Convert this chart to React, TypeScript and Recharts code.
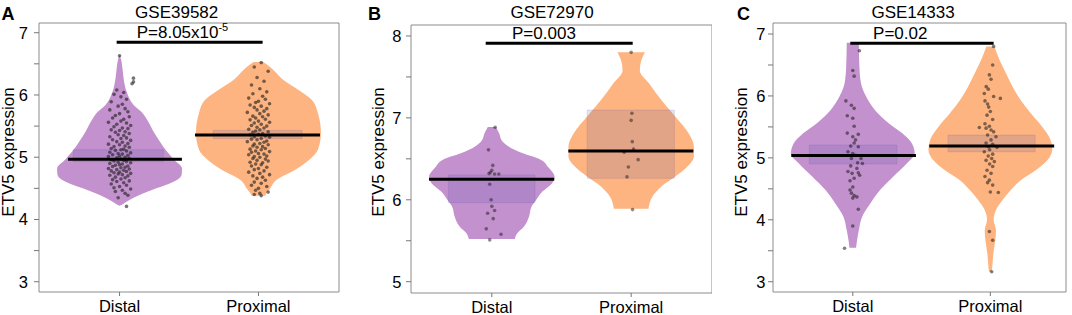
import { ScatterChart, Scatter, XAxis, YAxis, ReferenceArea, Curve } from "recharts";

const GROUPS = ["Distal", "Proximal"];
const FONT = '"Liberation Sans", Arial, Helvetica, sans-serif';
const PURPLE = "#c391cd";
const ORANGE = "#fdb480";
const BOX_FILL = "#4848b0";

const TITLES = ["GSE39582", "GSE72970", "GSE14333"];
const LETTERS = ["A", "B", "C"];

// violin outlines: y levels (top -> bottom) and half widths in x units
const violinA1Y = [6.64, 6.55, 6.48, 6.27, 6.05, 5.84, 5.73, 5.57, 5.41, 5.25, 5.09, 4.96, 4.82, 4.72, 4.61, 4.5, 4.39, 4.31, 4.25, 4.22];
const violinA1W = [0.0, 0.013, 0.018, 0.029, 0.051, 0.101, 0.157, 0.207, 0.245, 0.291, 0.341, 0.392, 0.45, 0.447, 0.392, 0.265, 0.139, 0.068, 0.025, 0.0];
const violinA2Y = [6.53, 6.45, 6.4, 6.24, 6.08, 5.92, 5.71, 5.39, 5.12, 4.96, 4.8, 4.64, 4.48, 4.4, 4.38];
const violinA2W = [0.035, 0.084, 0.108, 0.18, 0.289, 0.385, 0.428, 0.45, 0.428, 0.366, 0.265, 0.132, 0.079, 0.053, 0.05];
const violinB1Y = [6.89, 6.81, 6.72, 6.65, 6.57, 6.49, 6.4, 6.28, 6.2, 6.1, 6.0, 5.92, 5.79, 5.67, 5.59, 5.52];
const violinB1W = [0.029, 0.053, 0.073, 0.12, 0.218, 0.351, 0.404, 0.45, 0.431, 0.363, 0.319, 0.286, 0.266, 0.23, 0.182, 0.165];
const violinB2Y = [7.8, 7.71, 7.58, 7.42, 7.22, 7.02, 6.81, 6.65, 6.53, 6.4, 6.28, 6.16, 6.04, 5.89];
const violinB2W = [0.099, 0.074, 0.062, 0.129, 0.215, 0.314, 0.413, 0.45, 0.45, 0.4, 0.314, 0.215, 0.153, 0.124];
const violinC1Y = [6.86, 6.47, 6.2, 5.99, 5.77, 5.56, 5.4, 5.23, 5.07, 4.91, 4.7, 4.48, 4.26, 4.05, 3.83, 3.67, 3.55];
const violinC1W = [0.044, 0.048, 0.06, 0.097, 0.162, 0.261, 0.358, 0.431, 0.45, 0.392, 0.295, 0.198, 0.126, 0.068, 0.044, 0.031, 0.024];
const violinC2Y = [6.8, 6.58, 6.36, 6.14, 5.93, 5.72, 5.5, 5.29, 5.13, 4.96, 4.8, 4.64, 4.48, 4.32, 4.16, 4.0, 3.83, 3.67, 3.46, 3.24, 3.16];
const violinC2W = [0.029, 0.067, 0.115, 0.164, 0.221, 0.294, 0.378, 0.438, 0.45, 0.414, 0.33, 0.221, 0.149, 0.089, 0.041, 0.024, 0.041, 0.036, 0.022, 0.014, 0.01];

// [x1, x2, yLow, yHigh] shaded boxes
const boxA = [[0.667, 1.315, 4.93, 5.12], [1.673, 2.314, 5.3, 5.43]];
const boxB = [[0.688, 1.31, 5.965, 6.303], [1.684, 2.31, 6.262, 7.096]];
const boxC = [[0.684, 1.321, 4.9, 5.207], [1.692, 2.326, 5.099, 5.368]];

// [x1, x2, y] median bars
const medianA = [[0.629, 1.449, 4.968], [1.543, 2.443, 5.358]];
const medianB = [[0.549, 1.448, 6.25], [1.549, 2.446, 6.596]];
const medianC = [[0.553, 1.459, 5.04], [1.556, 2.464, 5.19]];

// [x1, x2, y, textX]
const bracketA = [0.979, 2.03, 6.846, 1.453];
const bracketB = [0.956, 2.011, 7.911, 1.374];
const bracketC = [0.982, 2.024, 6.85, 1.345];

const jitterA1: [number, number][] = [
  [1.0, 6.63], [1.1, 6.27], [1.1, 6.21], [1.09, 6.18], [0.98, 6.08], [1.03, 6.04], [0.96, 6.01], [1.01, 5.97], [1.05, 5.93], [0.94, 5.89],
  [1.02, 5.85], [0.99, 5.82], [1.04, 5.78], [0.93, 5.76], [1.06, 5.73], [1.0, 5.7], [0.97, 5.67], [1.07, 5.65], [0.95, 5.63], [1.03, 5.61],
  [1.01, 5.58], [0.92, 5.56], [1.05, 5.55], [0.98, 5.53], [1.08, 5.51], [0.96, 5.49], [1.02, 5.47], [1.06, 5.46], [0.94, 5.44], [1.0, 5.43],
  [1.04, 5.41], [0.97, 5.4], [1.07, 5.38], [0.99, 5.36], [1.03, 5.35], [0.93, 5.33], [1.05, 5.31], [1.01, 5.3], [0.95, 5.28], [1.08, 5.27],
  [0.98, 5.25], [1.02, 5.24], [1.06, 5.22], [0.92, 5.21], [1.0, 5.2], [1.04, 5.18], [0.96, 5.17], [1.07, 5.16], [0.94, 5.14], [1.03, 5.13],
  [1.01, 5.12], [0.97, 5.11], [1.05, 5.1], [0.93, 5.08], [1.08, 5.07], [0.99, 5.06], [1.02, 5.05], [0.95, 5.04], [1.06, 5.03], [1.0, 5.02],
  [0.92, 5.01], [1.04, 5.0], [0.98, 4.99], [1.07, 4.98], [1.01, 4.97], [0.94, 4.96], [1.03, 4.95], [0.96, 4.94], [1.05, 4.93], [0.99, 4.92],
  [1.08, 4.91], [0.93, 4.9], [1.02, 4.89], [1.0, 4.88], [0.97, 4.87], [1.06, 4.86], [0.95, 4.85], [1.04, 4.84], [1.01, 4.83], [0.92, 4.82],
  [1.07, 4.81], [0.98, 4.8], [1.03, 4.79], [0.94, 4.78], [1.05, 4.77], [1.0, 4.76], [0.96, 4.75], [1.08, 4.74], [0.99, 4.73], [1.02, 4.72],
  [0.93, 4.71], [1.06, 4.7], [0.97, 4.68], [1.04, 4.67], [1.01, 4.65], [0.95, 4.64], [1.07, 4.62], [0.98, 4.61], [1.03, 4.59], [0.94, 4.57],
  [1.05, 4.55], [1.0, 4.53], [0.96, 4.51], [1.08, 4.49], [1.02, 4.47], [0.97, 4.45], [1.04, 4.42], [1.06, 4.39], [0.99, 4.35], [1.05, 4.21],
];

const jitterA2: [number, number][] = [
  [2.02, 6.52], [1.97, 6.45], [2.07, 6.38], [1.99, 6.28], [2.04, 6.22], [1.95, 6.16], [2.01, 6.1], [2.06, 6.05], [1.96, 6.02], [2.03, 5.98],
  [1.93, 5.95], [2.05, 5.93], [2.0, 5.9], [1.98, 5.88], [2.08, 5.86], [1.94, 5.84], [2.02, 5.82], [1.97, 5.8], [2.06, 5.78], [1.99, 5.76],
  [2.04, 5.74], [1.92, 5.72], [2.01, 5.7], [2.07, 5.68], [1.96, 5.66], [2.03, 5.65], [1.98, 5.63], [2.05, 5.61], [1.94, 5.6], [2.0, 5.58],
  [2.08, 5.56], [1.97, 5.55], [2.02, 5.53], [1.95, 5.51], [2.06, 5.5], [1.99, 5.48], [2.04, 5.47], [1.93, 5.45], [2.01, 5.44], [1.98, 5.42],
  [2.07, 5.41], [1.96, 5.4], [2.03, 5.38], [2.0, 5.37], [1.94, 5.36], [2.05, 5.34], [1.97, 5.33], [2.08, 5.32], [2.02, 5.3], [1.95, 5.29],
  [1.99, 5.28], [2.06, 5.26], [1.92, 5.25], [2.04, 5.24], [2.01, 5.22], [1.97, 5.21], [2.07, 5.2], [1.96, 5.18], [2.03, 5.17], [1.99, 5.16],
  [2.05, 5.14], [1.94, 5.13], [2.02, 5.12], [1.98, 5.1], [2.08, 5.09], [1.95, 5.08], [2.0, 5.06], [2.04, 5.05], [1.93, 5.04], [2.06, 5.02],
  [1.97, 5.01], [2.01, 5.0], [1.96, 4.98], [2.05, 4.97], [1.99, 4.95], [2.07, 4.94], [1.94, 4.92], [2.03, 4.91], [1.98, 4.89], [2.02, 4.88],
  [1.95, 4.86], [2.06, 4.84], [2.0, 4.82], [1.97, 4.8], [2.04, 4.78], [1.93, 4.76], [2.01, 4.74], [2.08, 4.72], [1.96, 4.7], [2.03, 4.68],
  [1.99, 4.66], [2.05, 4.63], [1.97, 4.6], [2.02, 4.58], [1.95, 4.55], [2.06, 4.53], [2.0, 4.5], [1.98, 4.47], [2.07, 4.44], [2.01, 4.42],
  [1.97, 4.4], [2.02, 4.38],
];

const jitterB1: [number, number][] = [
  [1.024, 6.885], [0.976, 6.61], [1.007, 6.42], [1.0, 6.36], [0.99, 6.335], [0.98, 6.32], [1.02, 6.315], [1.05, 6.315], [0.985, 6.19],
  [0.995, 6.0], [1.0, 5.92], [0.97, 5.835], [1.02, 5.87], [1.01, 5.77], [0.96, 5.645], [1.066, 5.58], [0.985, 5.51],
];

const jitterB2: [number, number][] = [
  [2.0, 7.8], [2.005, 7.056], [2.0, 6.97], [2.008, 6.71], [2.017, 6.62], [1.95, 6.58], [2.05, 6.49], [1.98, 6.4], [1.97, 6.28], [2.01, 5.88],
];

const jitterC1: [number, number][] = [
  [1.048, 6.73], [1.0, 6.41], [1.01, 6.32], [0.95, 5.92], [0.99, 5.85], [1.01, 5.8], [0.96, 5.68], [1.0, 5.64], [1.01, 5.51], [0.96, 5.4],
  [1.04, 5.38], [1.0, 5.34], [1.02, 5.29], [1.01, 5.24], [0.985, 5.19], [1.04, 5.18], [0.965, 5.1], [1.0, 5.07], [1.02, 5.04], [0.99, 4.99],
  [1.06, 4.99], [1.035, 4.92], [1.07, 4.91], [0.985, 4.87], [1.03, 4.83], [0.965, 4.78], [0.995, 4.75], [1.04, 4.76], [1.05, 4.72], [1.01, 4.67],
  [0.98, 4.63], [1.0, 4.53], [0.98, 4.48], [0.99, 4.43], [1.01, 4.39], [1.03, 4.37], [1.0, 4.35], [1.04, 4.17], [1.0, 3.9], [0.94, 3.54],
];

const jitterC2: [number, number][] = [
  [2.024, 6.8], [2.017, 6.5], [1.993, 6.34], [2.005, 6.27], [1.97, 6.15], [1.985, 6.11], [1.956, 6.04], [2.024, 5.99], [2.073, 5.96], [1.961, 5.92],
  [1.98, 5.87], [1.988, 5.82], [2.0, 5.75], [1.976, 5.69], [2.017, 5.62], [1.961, 5.55], [1.993, 5.51], [1.92, 5.49], [1.969, 5.48], [2.005, 5.45],
  [2.024, 5.42], [1.98, 5.37], [2.041, 5.34], [2.005, 5.29], [1.969, 5.24], [2.017, 5.22], [1.985, 5.18], [2.048, 5.17], [1.995, 5.13], [1.956, 5.1],
  [2.017, 5.06], [1.985, 5.03], [2.01, 4.99], [1.969, 4.96], [2.029, 4.94], [1.995, 4.9], [2.017, 4.86], [1.976, 4.8], [2.005, 4.75], [1.961, 4.7],
  [1.993, 4.64], [1.98, 4.6], [2.017, 4.56], [2.0, 4.45], [2.058, 4.44], [1.993, 3.81], [2.017, 3.67], [2.01, 3.16],
];

const ticksAC = [3, 3.5, 4, 4.5, 5, 5.5, 6, 6.5, 7];
const ticksB = [5, 5.5, 6, 6.5, 7, 7.5, 8];

type Pt = { x: number; y: number };

function violinData(center: number, ys: number[], ws: number[]): Pt[] {
  const right = ys.map((y, i) => ({ x: center + ws[i], y }));
  const left = ys.map((y, i) => ({ x: center - ws[i], y }));
  return [...right, ...left];
}

function boxData(b: number[]): Pt[] {
  const [x1, x2, lo, hi] = b;
  return [
    { x: x2, y: hi },
    { x: x2, y: lo },
    { x: x1, y: hi },
    { x: x1, y: lo },
  ];
}

const areaLine = (fill: string, opacity: number, type: string, edge = false) => (p: any) => {
  const pts = p.points || [];
  const n = pts.length / 2;
  return (
    <Curve
      layout="vertical"
      type={type as any}
      points={pts.slice(0, n)}
      baseLine={pts.slice(n)}
      fill={fill}
      fillOpacity={opacity}
      stroke={edge ? fill : "none"}
      strokeOpacity={edge ? opacity : 0}
    />
  );
};

const hide = () => <g />;
const makeDot = (opacity: number) => (p: any) => (
  <circle cx={p.cx} cy={p.cy} r={1.8} fill="#1a1a1a" fillOpacity={opacity} />
);

const PANELS = [
  {
    left: 0, width: 345, right: 6, top: 23, xh: 23, yw: 39, tm: 6, dotOpacity: 0.6,
    xDomain: [0.42, 2.58], yDomain: [2.835, 7.156], yTicks: ticksAC,
    violins: [violinData(1, violinA1Y, violinA1W), violinData(2, violinA2Y, violinA2W)],
    boxes: boxA, medians: medianA, bracket: bracketA, jitter: [jitterA1, jitterA2],
    p: "P=8.05x10", sup: "-5",
  },
  {
    left: 355, width: 357, right: 0, top: 25, xh: 22, yw: 56, tm: 4.5, dotOpacity: 0.5,
    xDomain: [0.42, 2.58], yDomain: [4.862, 8.134], yTicks: ticksB,
    violins: [violinData(1, violinB1Y, violinB1W), violinData(2, violinB2Y, violinB2W)],
    boxes: boxB, medians: medianB, bracket: bracketB, jitter: [jitterB1, jitterB2],
    p: "P=0.003", sup: "",
  },
  {
    left: 712, width: 360, right: 6, top: 23, xh: 23, yw: 61, tm: 2.5, dotOpacity: 0.55,
    xDomain: [0.42, 2.55], yDomain: [2.834, 7.178], yTicks: ticksAC,
    violins: [violinData(1, violinC1Y, violinC1W), violinData(2, violinC2Y, violinC2W)],
    boxes: boxC, medians: medianC, bracket: bracketC, jitter: [jitterC1, jitterC2],
    p: "P=0.02", sup: "",
  },
];

function Panel({ cfg }: { cfg: (typeof PANELS)[number] }) {
  const colors = [PURPLE, ORANGE];
  const [bx1, bx2, by, tx] = cfg.bracket;
  const dot = makeDot(cfg.dotOpacity);
  return (
    <div style={{ position: "absolute", left: cfg.left, top: 0 }}>
      <ScatterChart width={cfg.width} height={315} margin={{ top: cfg.top, right: cfg.right, bottom: 0, left: 0 }}>
        <XAxis
          type="number"
          dataKey="x"
          domain={cfg.xDomain}
          allowDataOverflow
          ticks={[1, 2]}
          tickFormatter={(v: number) => GROUPS[v - 1]}
          height={cfg.xh}
          axisLine={false}
          tickSize={4}
          tickMargin={4}
          tickLine={{ stroke: "#777" }}
          tick={{ fontSize: 16.5, fill: "#000", fontFamily: FONT }}
        />
        <YAxis
          type="number"
          dataKey="y"
          domain={cfg.yDomain}
          allowDataOverflow
          ticks={cfg.yTicks}
          tickFormatter={(v: number) => (Number.isInteger(v) ? String(v) : "")}
          width={cfg.yw}
          axisLine={false}
          tickSize={5}
          tickMargin={cfg.tm}
          tickLine={{ stroke: "#777" }}
          tick={{ fontSize: 16.5, fill: "#000", fontFamily: FONT }}
        />
        <ReferenceArea
          x1={cfg.xDomain[0]}
          x2={cfg.xDomain[1]}
          y1={cfg.yDomain[0]}
          y2={cfg.yDomain[1]}
          ifOverflow="visible"
          fill="none"
          stroke="#8c8c8c"
          strokeWidth={1}
        />
        {cfg.violins.map((v, i) => (
          <Scatter key={`vio${i}`} data={v} shape={hide} line={areaLine(colors[i], 1, "monotone")} isAnimationActive={false} />
        ))}
        {cfg.boxes.map((b, i) => (
          <Scatter key={`box${i}`} data={boxData(b)} shape={hide} line={areaLine(BOX_FILL, 0.15, "linear", true)} isAnimationActive={false} />
        ))}
        {cfg.jitter.map((j, i) => (
          <Scatter key={`jit${i}`} data={j.map(([x, y]) => ({ x, y }))} shape={dot} isAnimationActive={false} />
        ))}
        {cfg.medians.map((m, i) => (
          <Scatter
            key={`med${i}`}
            data={[{ x: m[0], y: m[2] }, { x: m[1], y: m[2] }]}
            shape={hide}
            line={{ stroke: "#000", strokeWidth: 3 }}
            isAnimationActive={false}
          />
        ))}
        <Scatter
          data={[{ x: bx1, y: by }, { x: bx2, y: by }]}
          shape={hide}
          line={{ stroke: "#000", strokeWidth: 3 }}
          isAnimationActive={false}
        />
        <Scatter
          data={[{ x: tx, y: by }]}
          isAnimationActive={false}
          shape={(p: any) => (
            <text x={p.cx} y={p.cy - 4} textAnchor="middle" fontSize={17} fontFamily={FONT} fill="#000">
              {cfg.p}
              {cfg.sup ? (
                <tspan dy={-7} fontSize={11}>
                  {cfg.sup}
                </tspan>
              ) : null}
            </text>
          )}
        />
      </ScatterChart>
    </div>
  );
}

const TITLE_X = [176.7, 552, 913];
const LETTER_X = [1.5, 368, 737];
const YLABEL_X = [13.5, 383.5, 747];

export default function App() {
  return (
    <div style={{ position: "fixed", left: 0, top: 0, width: 1072, height: 315, background: "#fff", overflow: "hidden" }}>
      {PANELS.map((cfg, i) => (
        <Panel key={i} cfg={cfg} />
      ))}
      <svg width={1072} height={315} style={{ position: "absolute", left: 0, top: 0, pointerEvents: "none" }}>
        {TITLES.map((t, i) => (
          <text key={t} x={TITLE_X[i]} y={17.5} textAnchor="middle" fontSize={17} fontFamily={FONT} fill="#000">
            {t}
          </text>
        ))}
        {LETTERS.map((l, i) => (
          <text key={l} x={LETTER_X[i]} y={19.5} fontSize={18} fontWeight="bold" fontFamily={FONT} fill="#000">
            {l}
          </text>
        ))}
        {YLABEL_X.map((x, i) => (
          <text
            key={i}
            transform={`translate(${x},152) rotate(-90)`}
            textAnchor="middle"
            fontSize={17}
            fontFamily={FONT}
            fill="#000"
          >
            ETV5 expression
          </text>
        ))}
      </svg>
    </div>
  );
}
